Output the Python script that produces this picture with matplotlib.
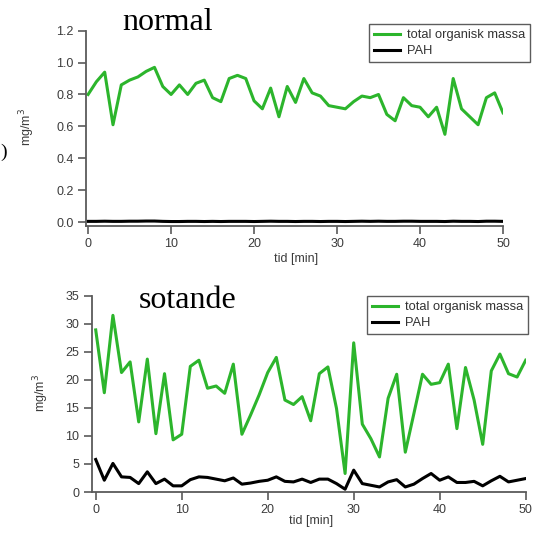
import numpy as np
from matplotlib import pyplot as plt

plt.rcParams['font.family'] = ['Liberation Sans', 'DejaVu Sans']

tid = np.arange(51)

# normal burning, mg/m3
organisk_normal = [0.80, 0.88, 0.94, 0.61, 0.86, 0.89, 0.91, 0.945, 0.97, 0.85,
                   0.80, 0.86, 0.80, 0.87, 0.89, 0.78, 0.755, 0.90, 0.92, 0.90,
                   0.76, 0.71, 0.84, 0.66, 0.85, 0.75, 0.90, 0.81, 0.79, 0.73,
                   0.72, 0.71, 0.755, 0.79, 0.78, 0.80, 0.675, 0.635, 0.78, 0.73,
                   0.72, 0.66, 0.72, 0.55, 0.90, 0.71, 0.66, 0.61, 0.78, 0.81,
                   0.685]
pah_normal = [0.004, 0.004, 0.005, 0.004, 0.004, 0.005, 0.005, 0.006, 0.006, 0.004,
              0.003, 0.003, 0.004, 0.004, 0.003, 0.004, 0.003, 0.004, 0.004, 0.004,
              0.003, 0.004, 0.005, 0.004, 0.004, 0.003, 0.004, 0.004, 0.003, 0.004,
              0.004, 0.003, 0.004, 0.005, 0.004, 0.005, 0.004, 0.004, 0.005, 0.005,
              0.004, 0.004, 0.004, 0.003, 0.005, 0.004, 0.004, 0.003, 0.005, 0.005,
              0.004]

# sooting burning, mg/m3
organisk_sotande = [28.9, 17.7, 31.5, 21.3, 23.2, 12.5, 23.7, 10.4, 21.1, 9.3,
                    10.3, 22.4, 23.5, 18.5, 18.9, 17.6, 22.8, 10.3, 13.7, 17.3,
                    21.3, 24.0, 16.4, 15.6, 17.0, 12.7, 21.1, 22.3, 14.9, 3.3,
                    26.6, 12.1, 9.5, 6.25, 16.7, 21.0, 7.1, 14.0, 21.0, 19.2,
                    19.5, 22.8, 11.3, 22.2, 16.4, 8.5, 21.6, 24.6, 21.1, 20.5,
                    23.5]
pah_sotande = [5.8, 2.1, 5.1, 2.7, 2.6, 1.5, 3.6, 1.5, 2.3, 1.1,
               1.1, 2.2, 2.7, 2.6, 2.3, 2.0, 2.5, 1.4, 1.6, 1.9,
               2.1, 2.7, 1.9, 1.8, 2.3, 1.7, 2.3, 2.3, 1.5, 0.5,
               3.9, 1.5, 1.2, 0.9, 1.8, 2.2, 0.9, 1.4, 2.4, 3.3,
               2.1, 2.7, 1.7, 1.7, 1.9, 1.1, 2.0, 2.8, 1.8, 2.1,
               2.4]

green = '#2cb52c'
axcol = '#5a5a5a'
txtcol = '#3c3c3c'
fs = 9

fig = plt.figure(figsize=(5.33, 5.33), dpi=100)


def style(ax):
    for s in ['top', 'right']:
        ax.spines[s].set_visible(False)
    for s in ['left', 'bottom']:
        ax.spines[s].set_color(axcol)
        ax.spines[s].set_linewidth(1.3)
    ax.tick_params(direction='out', length=6, width=1.2, color=axcol,
                   labelsize=fs, labelcolor=txtcol, pad=3)
    ax.tick_params(axis='x', pad=2.5)
    ax.set_xticks([0, 10, 20, 30, 40, 50])
    ax.set_ylabel('mg/m$^{3}$', fontsize=fs, color=txtcol)


ax1 = fig.add_axes([0.1614, 0.576, 0.7823, 0.3664])
ax1.plot(tid, organisk_normal, color=green, lw=2.2, label='total organisk massa')
ax1.plot(tid, pah_normal, color='black', lw=2.2, label='PAH')
ax1.set_xlim(-0.25, 50)
ax1.set_ylim(-0.025, 1.2)
ax1.set_yticks([0.0, 0.2, 0.4, 0.6, 0.8, 1.0, 1.2])
ax1.set_yticklabels(['0.0', '0.2', '0.4', '0.6', '0.8', '1.0', '1.2'])
style(ax1)
ax1.yaxis.set_label_coords(-49 / 417, 0.51)

ax2 = fig.add_axes([0.172, 0.0769, 0.8143, 0.3683])
ax2.plot(tid, organisk_sotande, color=green, lw=2.2, label='total organisk massa')
ax2.plot(tid, pah_sotande, color='black', lw=2.2, label='PAH')
ax2.set_xlim(-0.47, 50)
ax2.set_ylim(0, 35)
ax2.set_yticks([0, 5, 10, 15, 20, 25, 30, 35])
style(ax2)
ax2.yaxis.set_label_coords(-41 / 434, 0.505)

fig.text(296 / 533, 1 - 259 / 533, 'tid [min]', fontsize=fs, color=txtcol,
         ha='center', va='center')
fig.text(311 / 533, 1 - 521 / 533, 'tid [min]', fontsize=fs, color=txtcol,
         ha='center', va='center')

fig.text(168 / 533, 1 - 23 / 533, 'normal', family='Liberation Serif',
         fontsize=23, ha='center', va='center')
fig.text(188 / 533, 1 - 301 / 533, 'sotande', family='Liberation Serif',
         fontsize=23, ha='center', va='center')
fig.text(0.5 / 533, 1 - 152 / 533, ')', family='Liberation Serif',
         fontsize=14, ha='left', va='center')

for ax, (x1, y0) in [(ax1, (530, 24)), (ax2, (528, 296))]:
    leg = ax.legend(loc='upper right', bbox_to_anchor=(x1 / 533, 1 - y0 / 533),
                    bbox_transform=fig.transFigure, fontsize=9.3, frameon=True,
                    fancybox=False, borderpad=0.4, handlelength=2.0,
                    handletextpad=0.5, labelspacing=0.3, borderaxespad=0)
    leg.get_frame().set_edgecolor('#333333')
    leg.get_frame().set_linewidth(1.0)
    for t in leg.get_texts():
        t.set_color('#333333')

fig.savefig('out.png', dpi=100)
